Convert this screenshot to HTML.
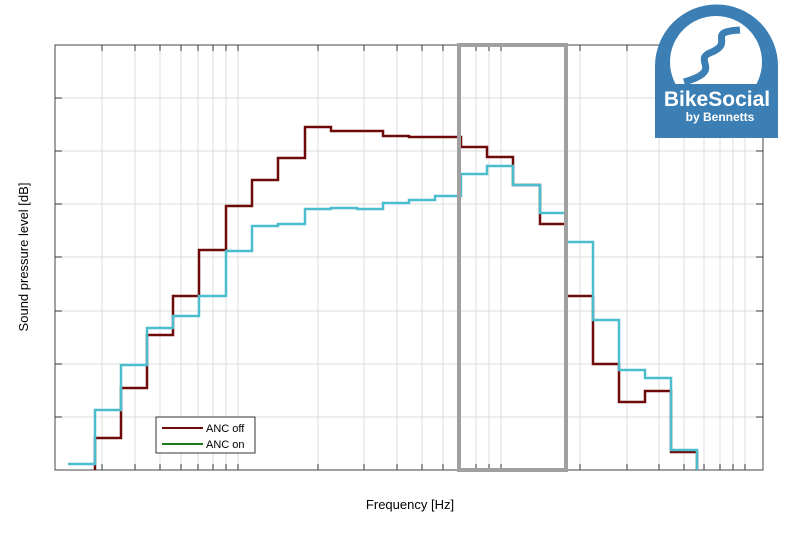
<!DOCTYPE html><html><head><style>body{margin:0;background:#fff}svg{display:block}</style></head><body>
<svg width="800" height="533" xmlns="http://www.w3.org/2000/svg" font-family="Liberation Sans, sans-serif">
<rect width="800" height="533" fill="#fff"/>
<g stroke="#dcdcdc" stroke-width="1">
<path d="M102 45V470M135 45V470M160 45V470M181 45V470M198 45V470M213 45V470M226 45V470M238 45V470M318 45V470M364 45V470M397 45V470M422 45V470M443 45V470M476 45V470M489 45V470M501 45V470M580 45V470M627 45V470M659 45V470M684 45V470M704 45V470M720 45V470M733 45V470M745 45V470"/>
<path d="M55 98H763M55 151H763M55 204H763M55 257H763M55 311H763M55 364H763M55 417H763"/>
</g>
<g stroke="#333" stroke-width="1">
<path d="M102 45v6M135 45v6M160 45v6M181 45v6M198 45v6M213 45v6M226 45v6M238 45v6M318 45v6M364 45v6M397 45v6M422 45v6M443 45v6M476 45v6M489 45v6M501 45v6M580 45v6M627 45v6M659 45v6M684 45v6M704 45v6M720 45v6M733 45v6M745 45v6"/>
<path d="M102 470v-6M135 470v-6M160 470v-6M181 470v-6M198 470v-6M213 470v-6M226 470v-6M238 470v-6M318 470v-6M364 470v-6M397 470v-6M422 470v-6M443 470v-6M476 470v-6M489 470v-6M501 470v-6M580 470v-6M627 470v-6M659 470v-6M684 470v-6M704 470v-6M720 470v-6M733 470v-6M745 470v-6"/>
<path d="M55 98h7M55 151h7M55 204h7M55 257h7M55 311h7M55 364h7M55 417h7M763 98h-7M763 151h-7M763 204h-7M763 257h-7M763 311h-7M763 364h-7M763 417h-7"/>
<rect x="55" y="45" width="708" height="425" fill="none" stroke="#444"/>
</g>
<path fill="none" stroke="#6e0a0a" stroke-width="2.5" d="M95 470V438H121V388H147V335H173V296H199V250H226V206H252V180H278V158H305V127H331V131H383V136H409V137H461V147H487V157H513V185H540V224H566V296H593V364H619V402H645V391H671V452H697V470"/>
<path fill="none" stroke="#4bbdcc" stroke-width="2.5" d="M68 464H95V410H121V365H147V328H173V316H199V296H226V251H252V226H278V224H305V209H331V208H357V209H383V203H409V200H435V196H461V174H487V166H513V185H540V213H566V242H593V320H619V370H645V378H671V450H697V470"/>
<rect x="459" y="45" width="107" height="425" fill="none" stroke="#a0a0a0" stroke-width="4"/>
<rect x="156" y="417" width="99" height="36" fill="#fff" stroke="#333"/>
<path d="M162 428H203" stroke="#6e0a0a" stroke-width="2"/>
<path d="M162 444H203" stroke="#1a7a1a" stroke-width="2"/>
<text x="206" y="432" font-size="11">ANC off</text>
<text x="206" y="448" font-size="11">ANC on</text>
<text x="410" y="509" font-size="13" text-anchor="middle">Frequency [Hz]</text>
<text transform="translate(28,257) rotate(-90)" font-size="13" text-anchor="middle">Sound pressure level [dB]</text>
<defs><clipPath id="c"><rect x="600" y="0" width="200" height="84"/></clipPath></defs>
<path d="M655 138V66A61.5 61.5 0 0 1 778 66V138Z" fill="#3b7fb5"/>
<circle cx="716" cy="62" r="46" fill="#fff" clip-path="url(#c)"/>
<path d="M740 30C705 32 735 42 712 52C690 60 726 70 684 82" fill="none" stroke="#3b7fb5" stroke-width="7"/>
<text x="717" y="106" font-size="21" font-weight="bold" fill="#fff" text-anchor="middle">BikeSocial</text>
<text x="720" y="121" font-size="12" font-weight="bold" fill="#fff" text-anchor="middle">by Bennetts</text>
</svg></body></html>
